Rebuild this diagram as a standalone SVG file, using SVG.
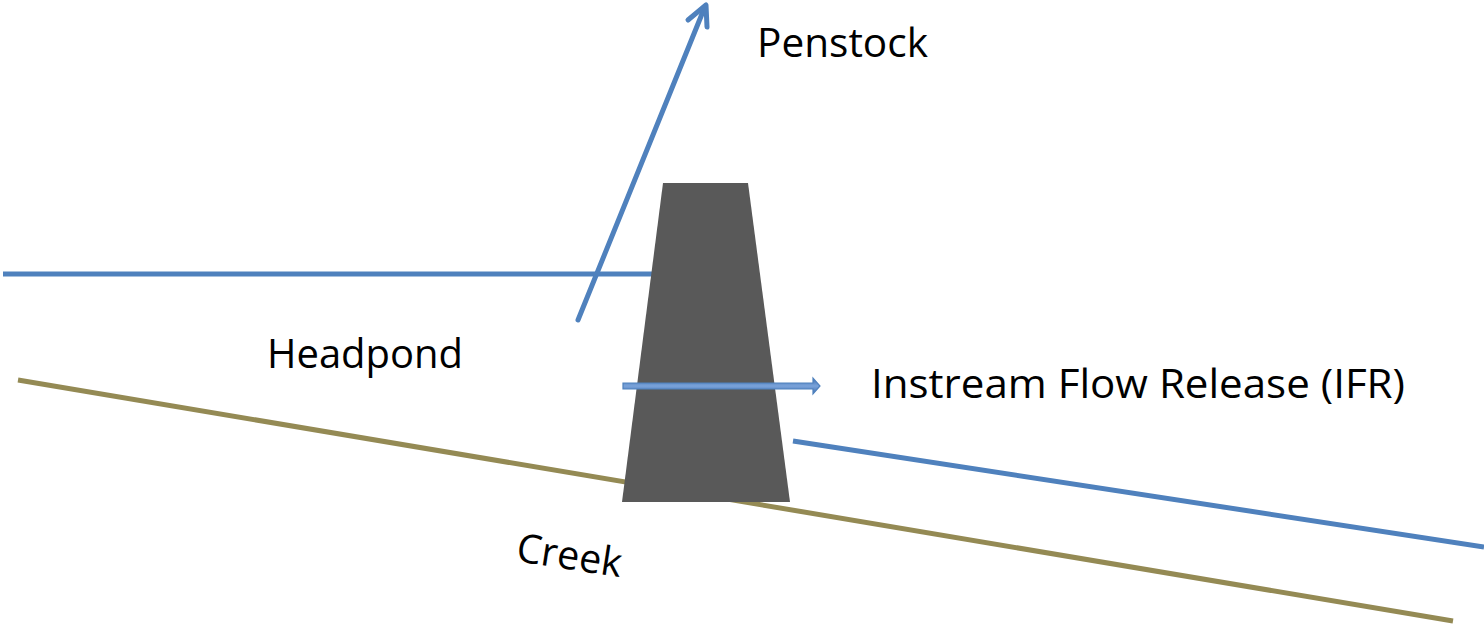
<svg xmlns="http://www.w3.org/2000/svg" width="1484" height="626" viewBox="0 0 1484 626">
<defs>
<style>
.lbl{font-family:"Open Sans","Noto Sans","Liberation Sans",sans-serif;font-size:40px;fill:#000}
.water{stroke:#4F81BD;stroke-width:5;fill:none}
</style>
<linearGradient id="ifrg" x1="0" y1="0" x2="0" y2="1">
<stop offset="0" stop-color="#3F6FB0"/>
<stop offset="0.5" stop-color="#7AA3DA"/>
<stop offset="1" stop-color="#3F6FB0"/>
</linearGradient>
</defs>
<rect width="1484" height="626" fill="#fff"/>
<g id="creek">
<line x1="18" y1="380" x2="1453" y2="621" stroke="#948A54" stroke-width="5"/>
</g>
<g id="headpond-water">
<line class="water" x1="3" y1="274" x2="653" y2="274"/>
</g>
<g id="downstream-water">
<line class="water" x1="793" y1="441" x2="1484" y2="547"/>
</g>
<g id="dam">
<polygon points="663,183 748,183 790,502 622,502" fill="#595959"/>
</g>
<g id="connectors">
<g id="penstock-arrow">
<line class="water" x1="578" y1="320" x2="704" y2="9" stroke-linecap="round"/>
<polyline class="water" points="688,20 706,5 707,27" stroke-linecap="round" stroke-linejoin="round"/>
</g>
<g id="ifr-arrow">
<polygon points="623,383 813,383 813,378 820,386 813,394 813,389 623,389" fill="url(#ifrg)" stroke="#4F81BD" stroke-width="1.2" stroke-linejoin="miter"/>
</g>
</g>
<g id="labels">
<text class="lbl" x="757" y="57" textLength="171" lengthAdjust="spacingAndGlyphs">Penstock</text>
<text class="lbl" x="267" y="368" textLength="196" lengthAdjust="spacingAndGlyphs">Headpond</text>
<text class="lbl" x="871" y="398" textLength="534" lengthAdjust="spacingAndGlyphs">Instream Flow Release (IFR)</text>
<text class="lbl" transform="translate(515,561) rotate(8.8)" x="0" y="0" textLength="106" lengthAdjust="spacingAndGlyphs">Creek</text>
</g>
</svg>
